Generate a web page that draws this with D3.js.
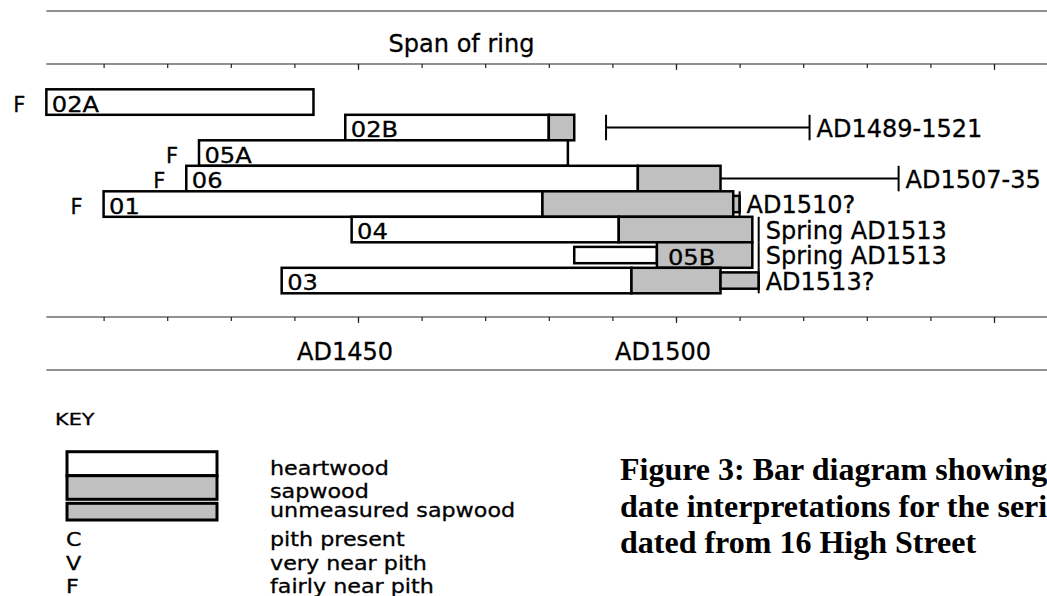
<!DOCTYPE html>
<html>
<head>
<meta charset="utf-8" />
<style>
body { margin: 0; background: #fff; }
svg { display: block; background: #fff; }
text { font-family: "DejaVu Sans", Verdana, sans-serif; fill: #000; stroke: #000; stroke-width: 0.3px; }
.caption { font-family: "Liberation Serif", "Times New Roman", serif; font-weight: bold; font-size: 32px; stroke: none; }
</style>
<script src="https://cdnjs.cloudflare.com/ajax/libs/d3/7.8.5/d3.min.js"></script>
</head>
<body>
<div id="chart"></div>
<script>
// series, top to bottom
const series    = ["02A", "02B", "05A", "06", "01", "04", "05B", "03"];
const pith      = ["F", "", "F", "F", "F", "", "", ""];
const firstRing = [1401, 1448, 1425, 1423, 1410, 1449, 1484, 1438];
const sapStart  = [null, 1480, null, 1494, 1479, 1491, 1497, 1493];
const lastRing  = [1443, 1484, 1483, 1507, 1509, 1512, 1512, 1507];
const unmeasEnd = [null, null, null, null, 1510, null, null, 1513];
const thinHeart = [false, false, false, false, false, false, true, false];
// felling date ranges / interpretations
const rangeFrom = [null, 1489, null, 1507, null, null, null, null];
const rangeTo   = [null, 1521, null, 1535, 1510, 1513, 1513, 1513];
const dateText  = ["", "AD1489-1521", "", "AD1507-35", "AD1510?", "Spring AD1513", "Spring AD1513", "AD1513?"];

const minorTicks = [1410, 1420, 1430, 1440, 1450, 1460, 1470, 1480, 1490, 1500, 1510, 1520, 1530, 1540, 1550];
const majorTicks = [1450, 1500, 1550];
const yearLabels = [1450, 1500];

const keyBars  = ["heartwood", "sapwood", "unmeasured sapwood"];
const keyCodes = ["C", "V", "F"];
const keyMeans = ["pith present", "very near pith", "fairly near pith"];
const caption  = ["Figure 3: Bar diagram showing", "date interpretations for the series", "dated from 16 High Street"];

const W = 1047, H = 596;
const grey = "#c0c0c0";

const svg = d3.select("#chart").append("svg")
  .attr("width", W).attr("height", H);

const x = d3.scaleLinear().domain([1450, 1500]).range([358, 676]);
const y = d3.scaleBand().domain(series).range([89.3, 293.3]);
const bh = y.bandwidth();
const thin = bh * 0.64;

// glyphs in the original are a bit wider than DejaVu, stretch them
function stretch(sel, k) {
  sel.each(function() {
    const w = this.getComputedTextLength();
    this.setAttribute("textLength", w * k);
    this.setAttribute("lengthAdjust", "spacingAndGlyphs");
  });
}

const x0 = x(1401);

// frame lines
[11, 370].forEach(function(yy) {
  svg.append("line").attr("x1", x0).attr("x2", W).attr("y1", yy).attr("y2", yy)
    .attr("stroke", "#222").attr("stroke-width", 1.2);
});

function drawAxis(yy) {
  svg.append("line").attr("x1", x0).attr("x2", W).attr("y1", yy).attr("y2", yy)
    .attr("stroke", "#222").attr("stroke-width", 1.2);
  const minor = svg.append("g").attr("transform", "translate(0," + yy + ")")
    .call(d3.axisBottom(x).tickValues(minorTicks).tickSize(4).tickFormat(""));
  const major = svg.append("g").attr("transform", "translate(0," + yy + ")")
    .call(d3.axisBottom(x).tickValues(majorTicks).tickSize(6).tickFormat(""));
  [minor, major].forEach(function(g) {
    g.select(".domain").remove();
    g.selectAll(".tick line").attr("stroke", "#222").attr("stroke-width", 1.2);
  });
}
drawAxis(64);
drawAxis(317);

svg.append("text").attr("x", 461.5).attr("y", 52).attr("text-anchor", "middle")
  .attr("font-size", 24).text("Span of ring");

svg.selectAll(".yearlab").data(yearLabels).enter().append("text")
  .attr("class", "yearlab")
  .attr("x", function(d) { return x(d) - 13; })
  .attr("y", 360).attr("text-anchor", "middle").attr("font-size", 24)
  .text(function(d) { return "AD" + d; });

// bars
const rows = series.map(function(s, i) {
  return { name: s, i: i, top: y(s), mid: y(s) + bh / 2 };
});

const barG = svg.append("g").attr("stroke", "#000").attr("stroke-width", 2.5);

rows.forEach(function(r) {
  const i = r.i;
  const heartEnd = sapStart[i] !== null ? sapStart[i] : lastRing[i];
  const hh = thinHeart[i] ? thin : bh;
  barG.append("rect")
    .attr("x", x(firstRing[i])).attr("y", r.mid - hh / 2)
    .attr("width", x(heartEnd) - x(firstRing[i])).attr("height", hh)
    .attr("fill", "#fff");
  if (sapStart[i] !== null) {
    barG.append("rect")
      .attr("x", x(sapStart[i])).attr("y", r.top)
      .attr("width", x(lastRing[i]) - x(sapStart[i])).attr("height", bh)
      .attr("fill", grey);
  }
  if (unmeasEnd[i] !== null) {
    barG.append("rect")
      .attr("x", x(lastRing[i])).attr("y", r.mid - thin / 2)
      .attr("width", x(unmeasEnd[i]) - x(lastRing[i])).attr("height", thin)
      .attr("fill", grey);
  }
});

// date ranges and caps
const rangeG = svg.append("g").attr("stroke", "#000").attr("stroke-width", 2);
rows.forEach(function(r) {
  const i = r.i;
  if (rangeTo[i] === null) return;
  if (rangeFrom[i] !== null) {
    rangeG.append("line")
      .attr("x1", x(rangeFrom[i])).attr("x2", x(rangeTo[i]))
      .attr("y1", r.mid).attr("y2", r.mid);
    if (rangeFrom[i] > lastRing[i]) {
      rangeG.append("line")
        .attr("x1", x(rangeFrom[i])).attr("x2", x(rangeFrom[i]))
        .attr("y1", r.top).attr("y2", r.top + bh);
    }
  }
  rangeG.append("line")
    .attr("x1", x(rangeTo[i])).attr("x2", x(rangeTo[i]))
    .attr("y1", r.top).attr("y2", r.top + bh);
});

// labels
const barLab = svg.selectAll(".barlab").data(rows).enter().append("text")
  .attr("class", "barlab")
  .attr("x", function(d) {
    const start = thinHeart[d.i] ? sapStart[d.i] : firstRing[d.i];
    return x(start) + (thinHeart[d.i] ? 11 : 5.5);
  })
  .attr("y", function(d) { return d.top + bh - 3; })
  .attr("font-size", 21)
  .text(function(d) { return d.name; });
stretch(barLab, 1.15);

svg.selectAll(".pithlab").data(rows.filter(function(d) { return pith[d.i]; }))
  .enter().append("text")
  .attr("class", "pithlab")
  .attr("x", function(d) { return x(firstRing[d.i]) - 21; })
  .attr("y", function(d) { return d.top + bh - 3; })
  .attr("text-anchor", "end").attr("font-size", 21)
  .text(function(d) { return pith[d.i]; });

svg.selectAll(".datelab").data(rows.filter(function(d) { return dateText[d.i]; }))
  .enter().append("text")
  .attr("class", "datelab")
  .attr("x", function(d) { return x(rangeTo[d.i]) + 7; })
  .attr("y", function(d) { return d.top + bh - 3.5; })
  .attr("font-size", 24)
  .text(function(d) { return dateText[d.i]; });

// key
const keyTitle = svg.append("text").attr("x", 55).attr("y", 425).attr("font-size", 16).text("KEY");
stretch(keyTitle, 1.3);

const keyG = svg.append("g").attr("stroke", "#000").attr("stroke-width", 3);
keyG.append("rect").attr("x", 67).attr("y", 451.7).attr("width", 150).attr("height", 24).attr("fill", "#fff");
keyG.append("rect").attr("x", 67).attr("y", 475.7).attr("width", 150).attr("height", 23.6).attr("fill", grey);
keyG.append("rect").attr("x", 67).attr("y", 503.3).attr("width", 150).attr("height", 16.7).attr("fill", grey);

const keyBarY = [475, 498.3, 516.7];
const kb = svg.selectAll(".keybar").data(keyBars).enter().append("text")
  .attr("class", "keybar")
  .attr("x", 270).attr("y", function(d, i) { return keyBarY[i]; })
  .attr("font-size", 19).text(function(d) { return d; });
stretch(kb, 1.17);

const keyCodeY = [545.5, 570, 593.3];
const kc = svg.selectAll(".keycode").data(keyCodes).enter().append("text")
  .attr("class", "keycode")
  .attr("x", 66).attr("y", function(d, i) { return keyCodeY[i]; })
  .attr("font-size", 19).text(function(d) { return d; });
stretch(kc, 1.17);
const km = svg.selectAll(".keymean").data(keyMeans).enter().append("text")
  .attr("class", "keymean")
  .attr("x", 270).attr("y", function(d, i) { return keyCodeY[i]; })
  .attr("font-size", 19).text(function(d) { return d; });
stretch(km, 1.17);

// caption
svg.selectAll(".caption").data(caption).enter().append("text")
  .attr("class", "caption")
  .attr("x", 620).attr("y", function(d, i) { return 480 + i * 36.5; })
  .text(function(d) { return d; });
</script>
</body>
</html>
